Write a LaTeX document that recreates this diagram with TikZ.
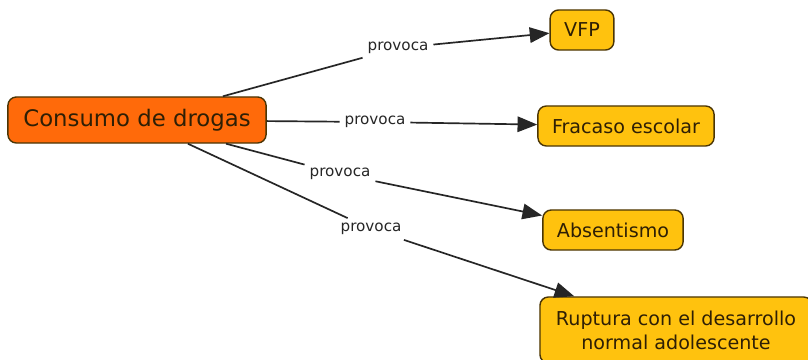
\documentclass[tikz,border=0pt]{standalone}
\usepackage{fontspec}
\setmainfont{DejaVu Sans}
\usetikzlibrary{arrows.meta, positioning}
\definecolor{naranja}{HTML}{FF6A0A}
\definecolor{amarillo}{HTML}{FFC20E}
\definecolor{borde}{HTML}{4A3505}
\definecolor{letra}{HTML}{2E1F05}
\tikzset{
  mapa/.style={
	x=0.025cm, y=-0.025cm, % one unit is one pixel of the reference
	>={Triangle[length=14pt,width=11pt]}, % big filled heads
	line width=1.2pt, draw=black!85,
  },
  concepto/.style={draw=borde, line width=1pt, rounded corners=6pt, fill=amarillo, text=letra,
	minimum height=1cm, inner xsep=10pt, font=\fontsize{13.6}{17}\selectfont},
  enlace/.style={fill=white, inner sep=3pt, text=black!85, font=\fontsize{10.8}{13}\selectfont},
}
\begin{document}
\begin{tikzpicture}[mapa]
	\clip (0,0) rectangle (808,360);
	\fill[white] (0,0) rectangle (808,360);
	\node[concepto, fill=naranja, minimum height=1.15cm, inner xsep=11pt, font=\fontsize{16.2}{19}\selectfont] (consumo) at (137,120) {Consumo de drogas};
	\node[concepto] (vfp) at (582,30) {VFP};
	\node[concepto] (fracaso) at (626,126) {Fracaso escolar};
	\node[concepto] (absentismo) at (613,230) {Absentismo};
	\node[concepto, align=center, minimum height=1.65cm, minimum width=6.8cm] (ruptura) at (676,330) {Ruptura con el desarrollo\\normal adolescente};

	\node[enlace] (p1) at (398,48) {provoca};
	\node[enlace] (p2) at (375,122) {provoca};
	\node[enlace] (p3) at (340,174) {provoca};
	\node[enlace] (p4) at (371,229) {provoca};

	\draw (consumo) -- (p1);
	\draw (consumo) -- (p2);
	\draw (consumo) -- (p3);
	\draw (consumo) -- (p4);
	\draw[->] (p1) -- (vfp);
	\draw[->] (p2) -- (fracaso);
	\draw[->] (p3) -- (absentismo);
	\draw[->] (p4) -- (ruptura);
\end{tikzpicture}
\end{document}
